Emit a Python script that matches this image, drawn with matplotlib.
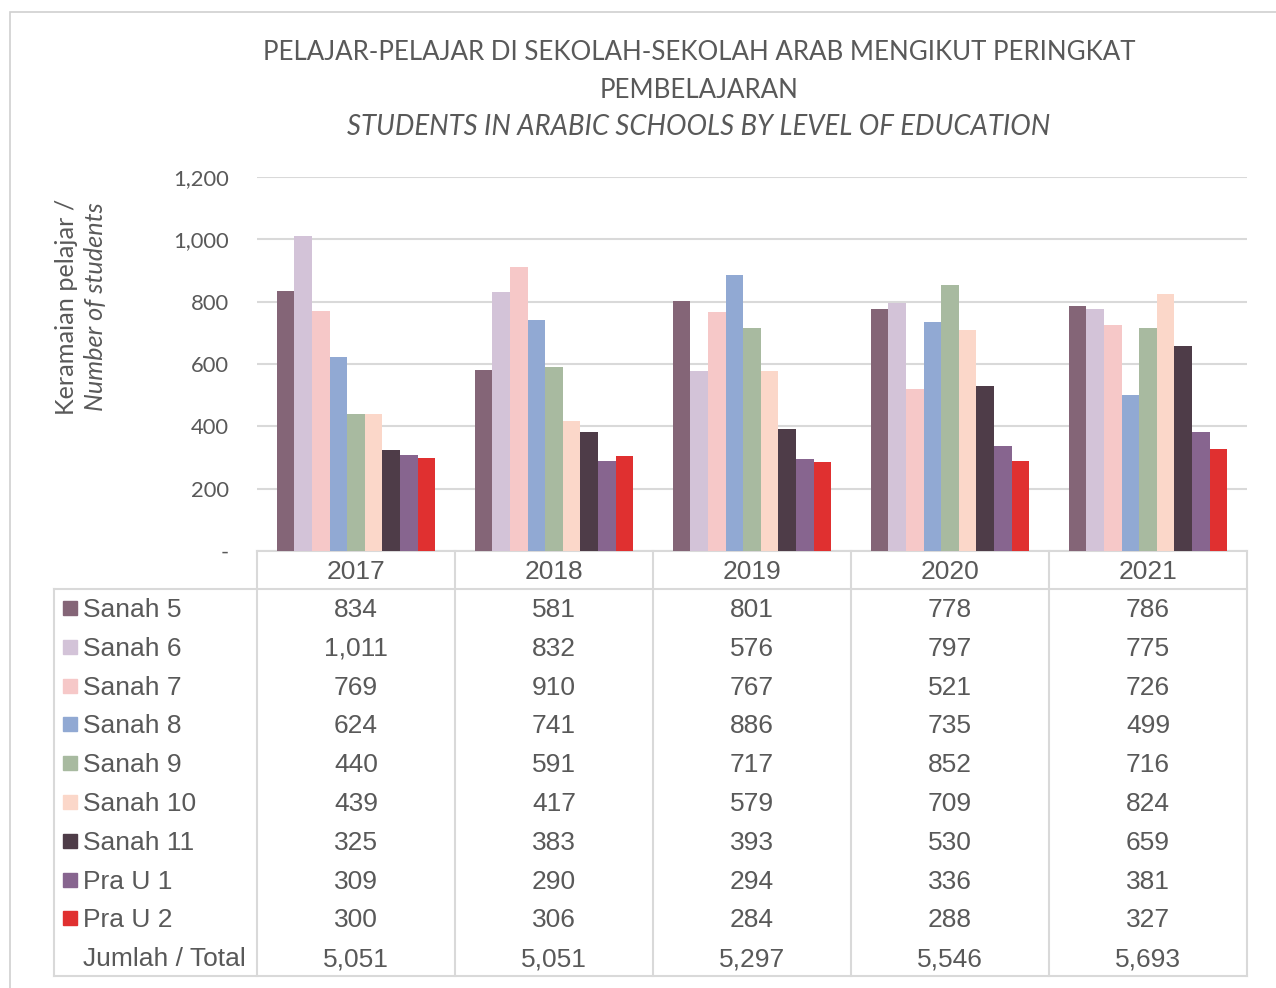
import matplotlib
matplotlib.use("Agg")
import matplotlib.pyplot as plt
from matplotlib.patches import Rectangle
from matplotlib.lines import Line2D
import matplotlib.transforms as mtrans
import numpy as np

# data
years = ["2017", "2018", "2019", "2020", "2021"]
levels = ["Sanah 5", "Sanah 6", "Sanah 7", "Sanah 8", "Sanah 9",
          "Sanah 10", "Sanah 11", "Pra U 1", "Pra U 2"]
sanah5 = [834, 581, 801, 778, 786]
sanah6 = [1011, 832, 576, 797, 775]
sanah7 = [769, 910, 767, 521, 726]
sanah8 = [624, 741, 886, 735, 499]
sanah9 = [440, 591, 717, 852, 716]
sanah10 = [439, 417, 579, 709, 824]
sanah11 = [325, 383, 393, 530, 659]
prau1 = [309, 290, 294, 336, 381]
prau2 = [300, 306, 284, 288, 327]
totals = [5051, 5051, 5297, 5546, 5693]
yticks = [0, 200, 400, 600, 800, 1000, 1200]

series = [sanah5, sanah6, sanah7, sanah8, sanah9, sanah10, sanah11, prau1, prau2]
colors = ["#846577", "#D3C3D8", "#F6C8C8", "#91A9D3", "#A8BAA0",
          "#FBD7C9", "#4E3C48", "#87658F", "#E03030"]

TXT = "#595959"
GRID = "#D9D9D9"
W, H = 1276, 988

fig = plt.figure(figsize=(W / 100, H / 100), dpi=100)

def fx(px):
    return px / W

def fy(py):
    return 1 - py / H

# outer chart border
fig.add_artist(Rectangle((fx(10), fy(1000)), fx(1300), fy(12) - fy(1000),
                         transform=fig.transFigure, fill=False,
                         edgecolor="#D0D0D0", linewidth=1.2))

ax = fig.add_axes([fx(257), fy(551), fx(1247) - fx(257), fy(177) - fy(551)])
n = len(series)
bw = 0.8 / n
x = np.arange(len(years))
for i, (vals, c) in enumerate(zip(series, colors)):
    ax.bar(x - 0.4 + bw * (i + 0.5), vals, width=bw, color=c, zorder=3)

ax.set_xlim(-0.5, len(years) - 0.5)
ax.set_ylim(0, 1200)
ax.set_yticks(yticks)
ax.set_yticklabels(["-" if v == 0 else f"{v:,}" for v in yticks],
                   fontsize=15.8, color=TXT, family="Lato")
ax.tick_params(axis="y", length=0, pad=20)
ax.set_xticks([])
ax.grid(axis="y", color=GRID, linewidth=1.5, zorder=0)
for s in ["top", "right", "left"]:
    ax.spines[s].set_visible(False)
ax.spines["bottom"].set_color(GRID)
ax.spines["bottom"].set_linewidth(1.5)

# y label
fig.text(fx(66), fy(307), "Keramaian pelajar /", rotation=90, ha="center",
         va="center", fontsize=18.2, color=TXT, family="Lato")
fig.text(fx(96), fy(307), "Number of students", rotation=90, ha="center",
         va="center", fontsize=18.2, color=TXT, family="Lato", style="italic")

# title
tkw = dict(ha="center", va="center", color=TXT, family="Lato")
fig.text(fx(699), fy(52), "PELAJAR-PELAJAR DI SEKOLAH-SEKOLAH ARAB MENGIKUT PERINGKAT",
         fontsize=18.6, **tkw)
fig.text(fx(699), fy(90), "PEMBELAJARAN", fontsize=18.6, **tkw)
fig.text(fx(699), fy(127), "STUDENTS IN ARABIC SCHOOLS BY LEVEL OF EDUCATION",
         fontsize=19.8, style="italic", **tkw)

# data table
def hline(y, x0, x1):
    fig.add_artist(Line2D([fx(x0), fx(x1)], [fy(y), fy(y)],
                          transform=fig.transFigure, color=GRID, linewidth=1.5))

def vline(xp, y0, y1):
    fig.add_artist(Line2D([fx(xp), fx(xp)], [fy(y0), fy(y1)],
                          transform=fig.transFigure, color=GRID, linewidth=1.5))

hline(589, 54, 1247)
hline(976, 54, 1247)
vline(54, 589, 976)
col_edges = np.linspace(257, 1247, len(years) + 1)
for xe in col_edges:
    vline(xe, 551, 976)

blend = mtrans.blended_transform_factory(ax.transData, fig.transFigure)
tfont = dict(family="Liberation Sans", fontsize=19, color=TXT)

for j, yr in enumerate(years):
    fig.text(j, fy(572), yr, transform=blend, ha="center", va="center", **tfont)

row_y = 610
step = 38.8
for k, (name, vals, c) in enumerate(zip(levels, series, colors)):
    yy = row_y + k * step
    fig.add_artist(Rectangle((fx(63), fy(yy + 5)), fx(14), fy(yy - 9) - fy(yy + 5),
                             transform=fig.transFigure, color=c))
    fig.text(fx(83), fy(yy), name, ha="left", va="center", **tfont)
    for j, v in enumerate(vals):
        fig.text(j, fy(yy), f"{v:,}", transform=blend, ha="center",
                 va="center", **tfont)

yy = row_y + len(levels) * step
fig.text(fx(83), fy(yy), "Jumlah / Total", ha="left", va="center", **tfont)
for j, v in enumerate(totals):
    fig.text(j, fy(yy), f"{v:,}", transform=blend, ha="center",
             va="center", **tfont)

fig.savefig("out.png", dpi=100)
